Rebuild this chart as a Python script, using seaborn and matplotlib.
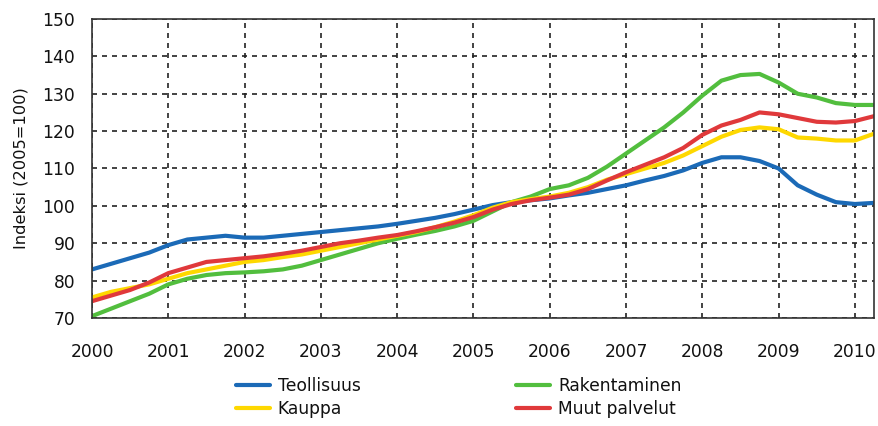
import numpy as np
import pandas as pd
import matplotlib
matplotlib.use("Agg")
import matplotlib.pyplot as plt
import seaborn as sns

# ---- data (quarterly readings, index 2005=100) ----
time = [2000.0 + 0.25 * i for i in range(42)]

teollisuus = [83, 84.5, 86, 87.5, 89.5, 91, 91.5, 92, 91.5, 91.5, 92, 92.5,
              93, 93.5, 94, 94.5, 95.2, 96, 96.8, 97.8, 99, 100.2, 101, 101.5,
              102, 102.8, 103.5, 104.5, 105.5, 106.8, 108, 109.5, 111.5, 113,
              113, 112, 110, 105.5, 103, 101, 100.5, 100.8]
rakentaminen = [70.5, 72.5, 74.5, 76.5, 79, 80.5, 81.5, 82, 82.2, 82.5, 83, 84,
                85.5, 87, 88.5, 90, 91.2, 92.3, 93.3, 94.5, 96, 98.5, 101, 102.5,
                104.5, 105.5, 107.5, 110.5, 114, 117.5, 121, 125, 129.5, 133.5,
                135, 135.3, 133, 130, 129, 127.5, 127, 127]
kauppa = [75.5, 77, 78, 79, 80.5, 82, 83, 84, 85, 85.5, 86.3, 87,
          88, 89, 90, 91, 92, 93, 94.3, 95.8, 97.5, 99.5, 101, 101.8,
          102.5, 103.5, 105, 107, 108.5, 110, 111.5, 113.5, 116, 118.5,
          120.3, 121, 120.5, 118.3, 118, 117.5, 117.5, 119.3]
muut_palvelut = [74.5, 76, 77.5, 79.5, 82, 83.5, 85, 85.5, 86, 86.5, 87.2, 88,
                 89, 90, 90.7, 91.5, 92.2, 93.2, 94.3, 95.5, 97, 99, 100.5, 101.5,
                 102.2, 103, 104.5, 106.8, 109, 111, 113, 115.5, 119, 121.5,
                 123, 125, 124.5, 123.5, 122.5, 122.3, 122.7, 124]

series_names = ["Teollisuus", "Rakentaminen", "Kauppa", "Muut palvelut"]
series_colors = ["#1b6ab7", "#52be3e", "#fed800", "#e0393b"]
x_ticks = list(range(2000, 2011))
y_ticks = list(range(70, 151, 10))
y_label = "Indeksi (2005=100)"

df = pd.DataFrame({
    "Vuosi": time * 4,
    "Indeksi": teollisuus + rakentaminen + kauppa + muut_palvelut,
    "Sarja": sum([[n] * len(time) for n in series_names], []),
})

sns.set_theme(style="white")
plt.rcParams["font.family"] = ["DejaVu Sans"]
plt.rcParams["text.color"] = "#111111"
plt.rcParams["axes.labelcolor"] = "#111111"
plt.rcParams["xtick.color"] = "#111111"
plt.rcParams["ytick.color"] = "#111111"

fig = plt.figure(figsize=(8.79, 4.26), dpi=100)
ax = fig.add_axes([92 / 879, 1 - 318 / 426, (874 - 92) / 879, (318 - 19) / 426])

sns.lineplot(data=df, x="Vuosi", y="Indeksi", hue="Sarja",
             hue_order=series_names, palette=series_colors,
             linewidth=3.0, ax=ax, legend=True)

ax.set_xlim(2000, 2010.25)
ax.set_ylim(70, 150)
ax.set_xticks(x_ticks)
ax.set_yticks(y_ticks)
ax.set_xticklabels([str(t) for t in x_ticks], fontsize=12.3)
ax.set_yticklabels([str(t) for t in y_ticks], fontsize=12.3)
ax.set_xlabel("")
ax.set_ylabel(y_label, fontsize=11.7, labelpad=10)

ax.grid(True, color="#222222", linestyle=(0, (3, 3)), linewidth=1.2)
for sp in ax.spines.values():
    sp.set_visible(True)
    sp.set_color("#333333")
    sp.set_linewidth(1.2)
ax.tick_params(axis="y", direction="out", length=5, width=1.2, color="#333333",
               labelcolor="#111111", pad=7)
ax.tick_params(axis="x", direction="inout", length=8, width=1.2, color="#333333",
               labelcolor="#111111", pad=14)

handles, labels = ax.get_legend_handles_labels()
hmap = dict(zip(labels, handles))
order = ["Teollisuus", "Kauppa", "Rakentaminen", "Muut palvelut"]
ax.legend([hmap[k] for k in order], order, ncol=2, frameon=False,
          fontsize=12.3, handlelength=2.0, handletextpad=0.45,
          columnspacing=9.1, labelspacing=0.3, labelcolor="#111111",
          loc="center left", bbox_to_anchor=(236 / 879, 1 - 397.5 / 426),
          bbox_transform=fig.transFigure, borderaxespad=0, borderpad=0)

fig.savefig("out.png", dpi=100)
